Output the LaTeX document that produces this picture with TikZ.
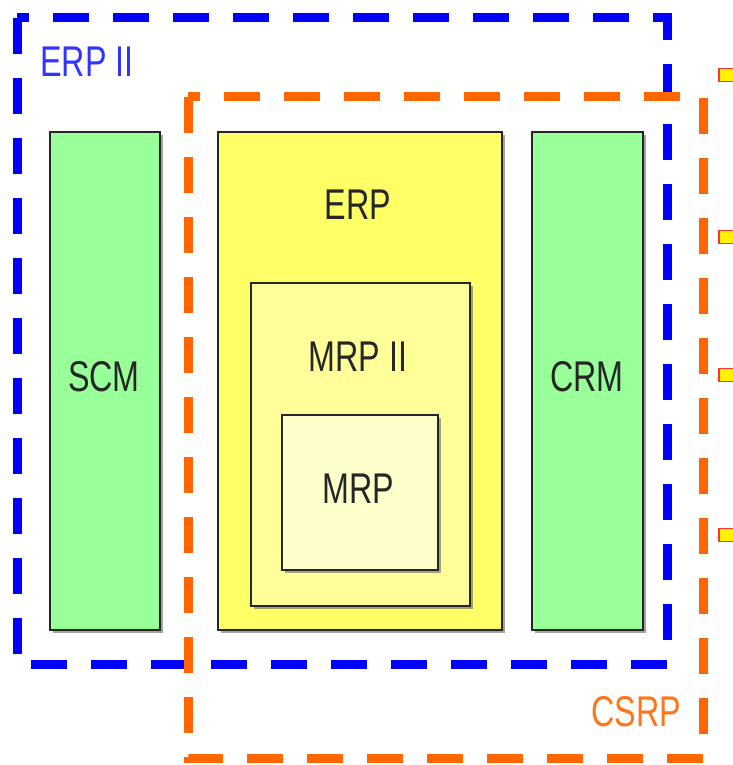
\documentclass[tikz,border=0pt]{standalone}
\usepackage{fontspec}
\usepackage{xcolor}
\usepackage{tikz}
\usetikzlibrary{shadows}
\newfontfamily\labelfont[FakeStretch=0.75]{Liberation Sans}
\definecolor{erpblue}{HTML}{0000FF}
\definecolor{csrporange}{HTML}{FF6600}
\definecolor{modgreen}{HTML}{99FF99}
\definecolor{erpyellow}{HTML}{FFFF66}
\definecolor{mrpiiyellow}{HTML}{FFFF99}
\definecolor{mrpyellow}{HTML}{FFFFCC}

\begin{document}
\begin{tikzpicture}[x=1pt, y=-1pt,
    box/.style={draw=black!85, line width=2.5pt, inner sep=0pt,
        drop shadow={shadow xshift=2.5pt, shadow yshift=-2.5pt, fill=black!60, opacity=0.6}},
    txt/.style={font=\labelfont\fontsize{43}{43}\selectfont, text=black!85, inner sep=0pt},
    frame/.style={line width=9pt, dash pattern=on 36pt off 24pt},
    marker/.style={draw=red!80, fill=yellow, line width=1.5pt, minimum width=16, minimum height=13, inner sep=0pt}]
    \useasboundingbox (0,0) rectangle (732,765);
    % outer frames
    \draw[frame, erpblue] (17,18) rectangle (667,664);
    \draw[frame, csrporange] (188,97) rectangle (703,758);
    \node[txt, text=erpblue!80] (erpii) at (87,62) {ERP II};
    \node[txt, text=csrporange!90] (csrp) at (636,712) {CSRP};
    % modules
    \node[box, fill=modgreen, minimum width=110, minimum height=498] (scm) at (105,381) {};
    \node[txt] (scmtxt) at (104,377) {SCM};
    \node[box, fill=modgreen, minimum width=111, minimum height=498] (crm) at (587.5,381) {};
    \node[txt] (crmtxt) at (587,377) {CRM};
    \node[box, fill=erpyellow, minimum width=284, minimum height=498] (erp) at (360,381) {};
    \node[txt] (erptxt) at (358,205) {ERP};
    \node[box, fill=mrpiiyellow, minimum width=219, minimum height=323] (mrpii) at (360.5,444.5) {};
    \node[txt] (mrpiitxt) at (358,357) {MRP II};
    \node[box, fill=mrpyellow, minimum width=156, minimum height=155] (mrp) at (360,492.5) {};
    \node[txt] (mrptxt) at (358,489) {MRP};
    % clipped markers at the right edge
    \node[marker, anchor=west] (m1) at (718,75) {};
    \node[marker, anchor=west] (m2) at (718,237) {};
    \node[marker, anchor=west] (m3) at (718,375) {};
    \node[marker, anchor=west] (m4) at (718,535) {};
\end{tikzpicture}
\end{document}
